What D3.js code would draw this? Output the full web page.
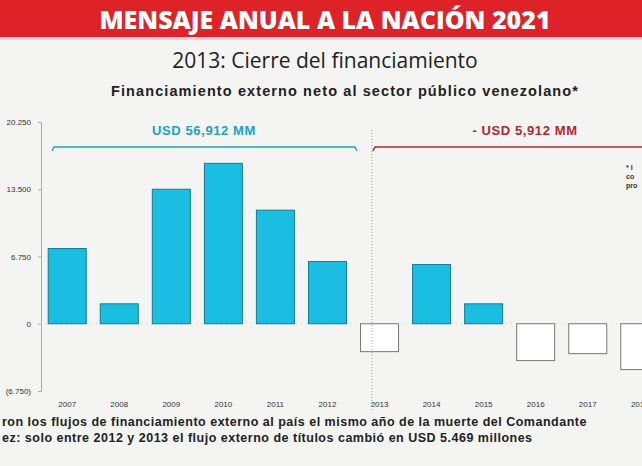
<!DOCTYPE html>
<html><head><meta charset="utf-8">
<script src="https://cdn.jsdelivr.net/npm/d3@7"></script>
<style>body{margin:0;background:#f4f4f2;overflow:hidden}svg{display:block}</style>
</head><body><svg id="c" width="642" height="466"></svg>
<script>
const years = ["2007","2008","2009","2010","2011","2012","2013","2014","2015","2016","2017","2018"];
const values = [7550, 2000, 13500, 16100, 11400, 6250, -2800, 5950, 2000, -3700, -3000, -4600];
const ticks = [-6750, 0, 6750, 13500, 20250];
const fmt = v => v < 0 ? "(" + d3.format(",")(-v).replace(",", ".") + ")" : d3.format(",")(v).replace(",", ".");

const svg = d3.select("#c");

// Banner
svg.append("rect").attr("width", 642).attr("height", 37).attr("fill", "#de2328");
svg.append("rect").attr("y", 37).attr("width", 642).attr("height", 3).attr("fill", "#d9d9d9");
svg.append("text").attr("x", 325).attr("y", 29).attr("text-anchor", "middle")
  .attr("font-family", "Open Sans, sans-serif").attr("font-weight", 800).attr("font-size", 25)
  .attr("fill", "#fff").text("MENSAJE ANUAL A LA NACIÓN 2021");
svg.append("text").attr("x", 325).attr("y", 68).attr("text-anchor", "middle")
  .attr("font-family", "Open Sans, sans-serif").attr("font-size", 21).attr("fill", "#222")
  .text("2013: Cierre del financiamiento");
svg.append("text").attr("x", 345).attr("y", 96).attr("text-anchor", "middle")
  .attr("font-family", "Liberation Sans, Arial, sans-serif").attr("font-weight", "bold").attr("font-size", 14.5)
  .attr("letter-spacing", 1.1).attr("fill", "#222")
  .text("Financiamiento externo neto al sector público venezolano*");

// Scales
const x = d3.scaleBand().domain(years).range([43, 664]).paddingInner(0.27).paddingOuter(0.1);
const y = d3.scaleLinear().domain([-6750, 20250]).range([391, 122]);

// Y axis
const ya = svg.append("g").attr("transform", "translate(41,0)")
  .call(d3.axisLeft(y).tickValues(ticks).tickFormat(fmt).tickSize(3));
ya.select(".domain").attr("stroke", "#aaa");
ya.selectAll(".tick line").attr("stroke", "#aaa");
ya.selectAll("text").attr("font-size", 8).attr("fill", "#333").attr("x", -10);

// zero line
svg.append("line").attr("x1", 41).attr("x2", 642).attr("y1", y(0)).attr("y2", y(0))
  .attr("stroke", "#ccc").attr("stroke-dasharray", "1,4");

// Bars
svg.selectAll("rect.bar").data(values).join("rect").attr("class", "bar")
  .attr("x", (d, i) => x(years[i]))
  .attr("width", x.bandwidth())
  .attr("y", d => y(Math.max(0, d)))
  .attr("height", d => Math.abs(y(d) - y(0)))
  .attr("fill", d => d > 0 ? "#1bbde0" : "#fff")
  .attr("stroke", d => d > 0 ? "#127e95" : "#777").attr("stroke-width", 1);

// X labels
svg.selectAll("text.yr").data(years).join("text").attr("class", "yr")
  .attr("x", d => x(d) + x.bandwidth() / 2).attr("y", 407).attr("text-anchor", "middle")
  .attr("font-family", "Liberation Sans, sans-serif").attr("font-size", 8).attr("fill", "#333").text(d => d);

// Divider
const divX = x("2013") + x.bandwidth() * 0.3;
svg.append("line").attr("x1", divX).attr("x2", divX).attr("y1", 130).attr("y2", 410)
  .attr("stroke", "#999").attr("stroke-dasharray", "1,2");

// Brackets
function bracket(x1, x2, col, label, lx) {
  svg.append("path").attr("d", `M${x1},151 L${x1 + 2},147 L${x2 - 2},147 L${x2},151`)
    .attr("fill", "none").attr("stroke", col).attr("stroke-width", 1.5);
  svg.append("text").attr("x", lx).attr("y", 135).attr("text-anchor", "middle")
    .attr("font-family", "Liberation Sans, Arial, sans-serif").attr("font-weight", "bold").attr("font-size", 13)
    .attr("letter-spacing", 0.6).attr("fill", col).text(label);
}
bracket(52, 357, "#1aa3c4", "USD 56,912 MM", 204);
bracket(373, 660, "#b3262b", "- USD 5,912 MM", 525);

// side note
["* I", "co", "pro"].forEach((t, i) => svg.append("text").attr("x", 626).attr("y", 170 + i * 9)
  .attr("font-family", "Liberation Sans, sans-serif").attr("font-weight", "bold").attr("font-size", 7).attr("fill", "#333").text(t));

// footer
["ron los flujos de financiamiento externo al país el mismo año de la muerte del Comandante",
 "ez: solo entre 2012 y 2013 el flujo externo de títulos cambió en USD 5.469 millones"].forEach((t, i) =>
  svg.append("text").attr("x", 2).attr("y", 426 + i * 16)
    .attr("font-family", "Liberation Sans, Arial, sans-serif").attr("font-weight", "bold").attr("font-size", 12.5)
    .attr("letter-spacing", 0.5).attr("fill", "#222").text(t));
</script></body></html>
